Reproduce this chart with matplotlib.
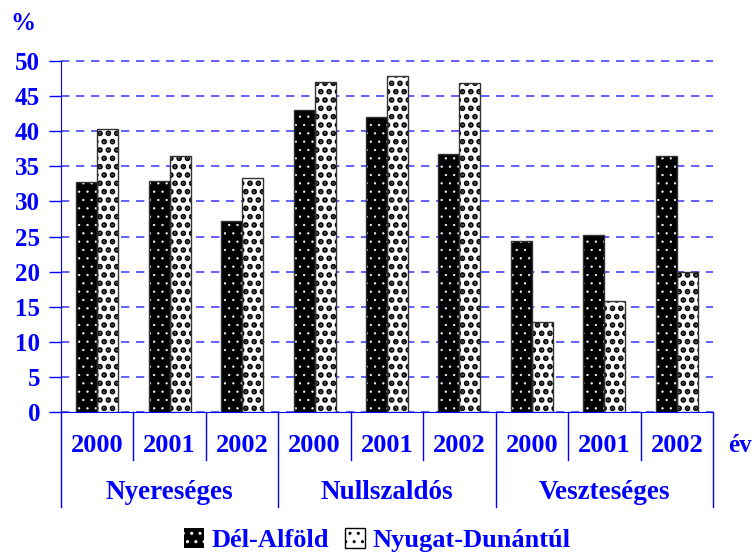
import matplotlib.pyplot as plt
import numpy as np

# data
groups = ['Nyereséges', 'Nullszaldós', 'Veszteséges']
years = ['2000', '2001', '2002']
del_alfold = [32.8, 32.9, 27.2, 43.0, 42.0, 36.7, 24.4, 25.2, 36.5]
nyugat_dunantul = [40.3, 36.5, 33.3, 47.0, 47.8, 46.9, 12.8, 15.8, 19.9]

blue = '#0000ff'
font = {'family': 'Liberation Serif', 'weight': 'bold', 'color': blue}

fig = plt.figure(figsize=(7.55, 5.58), dpi=100)
ax = fig.add_axes([0.0808, 0.2616, 0.8636, 0.6291])

x = np.arange(len(del_alfold))
w = 0.29

# black bars with small white dots
with plt.rc_context({'hatch.linewidth': 0.4}):
    ax.bar(x - w / 2, del_alfold, w, color='black', edgecolor='white', hatch='..', linewidth=0, zorder=3)
    h1 = plt.Rectangle((0, 0), 1, 1, facecolor='black', edgecolor='white', hatch='..', linewidth=0)
ax.bar(x - w / 2, del_alfold, w, fill=False, edgecolor='#333333', linewidth=1, zorder=4)
# white bars with black dots
with plt.rc_context({'hatch.linewidth': 2.8}):
    ax.bar(x + w / 2, nyugat_dunantul, w, color='white', edgecolor='black', hatch='..', linewidth=0, zorder=3)
    h2 = plt.Rectangle((0, 0), 1, 1, facecolor='white', edgecolor='black', hatch='..', linewidth=1)
ax.bar(x + w / 2, nyugat_dunantul, w, fill=False, edgecolor='#333333', linewidth=1, zorder=4)

ax.set_xlim(-0.5, len(x) - 0.5)
ax.set_ylim(0, 50)
ax.set_yticks(range(0, 51, 5))
ax.set_xticks([])
ax.yaxis.grid(True, color='#4545ff', linestyle=(0, (5, 4)), linewidth=1.2, zorder=0)
for gl in ax.get_ygridlines():
    gl.set_clip_on(False)

for s in ['top', 'right']:
    ax.spines[s].set_visible(False)
ax.spines['left'].set_color(blue)
ax.spines['bottom'].set_color(blue)
ax.tick_params(axis='y', colors=blue, length=9, width=1, pad=6)
for lab in ax.get_yticklabels():
    lab.set_fontfamily('Liberation Serif')
    lab.set_fontweight('bold')
    lab.set_fontsize(18)

trans = ax.get_xaxis_transform()
# year labels and separators
for i in range(len(x)):
    ax.text(i, -0.094, years[i % 3], ha='center', va='center', fontsize=19,
            transform=trans, fontdict=font)
for i in range(len(x) + 1):
    bottom = -0.27 if i % 3 == 0 else -0.137
    ax.plot([i - 0.5, i - 0.5], [0, bottom], color=blue, linewidth=1,
            transform=trans, clip_on=False)
for g, name in enumerate(groups):
    ax.text(g * 3 + 1, -0.23, name, ha='center', va='center', fontsize=19.5,
            transform=trans, fontdict=font)
ax.text(8.71, -0.094, 'év', ha='left', va='center', fontsize=18,
        transform=trans, fontdict=font)

fig.text(0.014, 0.957, '%', ha='left', va='center', fontsize=18, fontdict=font)

leg = fig.legend([h1, h2], ['Dél-Alföld', 'Nyugat-Dunántúl'], loc='lower center',
                 bbox_to_anchor=(0.5, -0.032), ncol=2, frameon=False,
                 handlelength=0.75, handleheight=0.75, handletextpad=0.3, columnspacing=0.6,
                 prop={'family': 'Liberation Serif', 'weight': 'bold', 'size': 19})
for t in leg.get_texts():
    t.set_color(blue)

fig.savefig('out.png', dpi=100)
